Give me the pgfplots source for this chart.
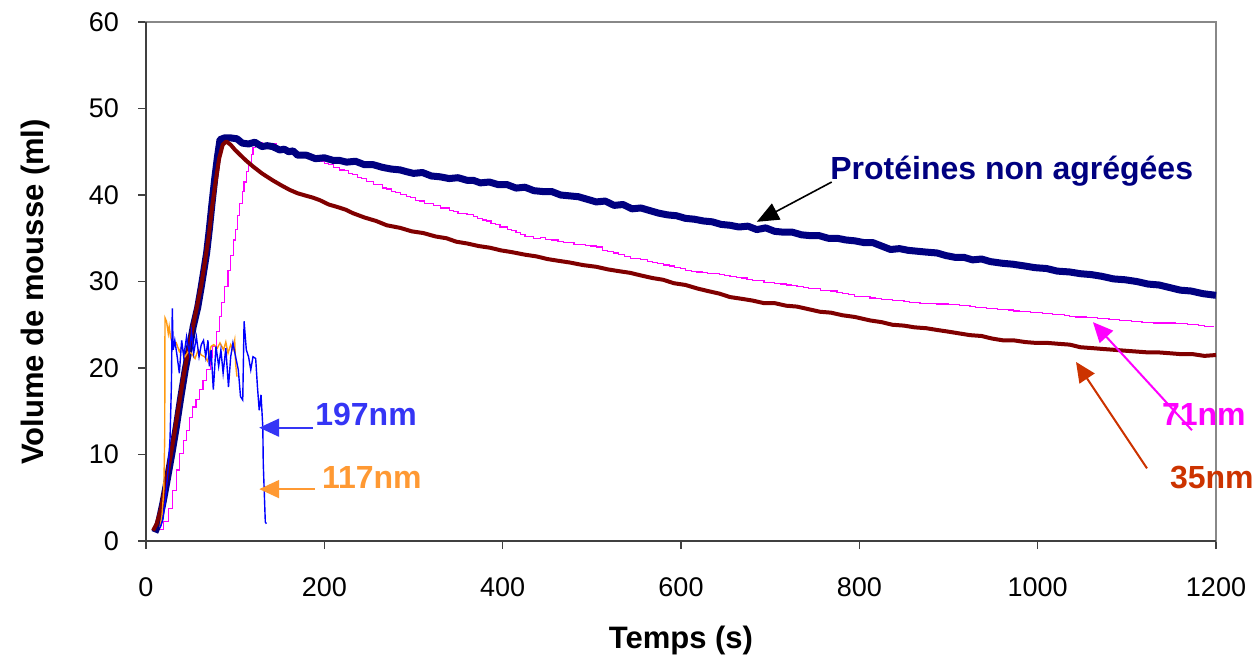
\documentclass[border=0pt]{standalone}
\usepackage{pgfplots}
\pgfplotsset{compat=1.18}
\usepackage{fontspec}
\setmainfont{Liberation Sans}
\usetikzlibrary{arrows.meta}
\definecolor{navyc}{HTML}{000080}
\definecolor{brownc}{HTML}{800000}
\definecolor{magc}{HTML}{FF00FF}
\definecolor{bluec}{HTML}{0000FF}
\definecolor{orangec}{HTML}{FF9A10}
\definecolor{bluetxt}{HTML}{3535F5}
\definecolor{orangetxt}{HTML}{FF9933}
\definecolor{redtxt}{HTML}{CC3300}
\definecolor{darkax}{HTML}{404040}
\definecolor{lightax}{HTML}{888888}
\begin{document}
\begin{tikzpicture}
\path[use as bounding box] (-73pt,-58.5pt) rectangle (555pt,270.5pt);
\begin{axis}[
  scale only axis,
  width=535pt, height=259.5pt,
  xmin=0, xmax=1200, ymin=0, ymax=60,
  xtick={0,200,...,1200}, ytick={0,10,...,60},
  tick pos=left, tick align=outside,
  major tick length=4pt,
  every tick/.style={darkax, line width=0.8pt},
  axis line style={lightax, line width=1pt},
  /pgf/number format/assume math mode=true,
  /pgf/number format/1000 sep={},
  ticklabel style={font=\fontsize{13.5}{15}\selectfont},
  xticklabel style={yshift=-11pt},
  yticklabel style={xshift=-6pt},
  xlabel={Temps (s)},
  ylabel={Volume de mousse (ml)},
  label style={font=\fontsize{15.5}{17}\selectfont\bfseries},
  xlabel style={at={(axis description cs:0.5,-0.1908)}, anchor=center},
  ylabel style={at={(axis description cs:-0.1037,0.48)}, anchor=center},
  clip=false,
]
% axis lines: dark left and bottom
\draw[darkax, line width=1pt] (rel axis cs:0,1) -- (rel axis cs:0,0) -- (rel axis cs:1,0);

% 71 nm (magenta)
\addplot[magc, line width=0.6pt, const plot] coordinates {
(15,1.3) (20,2.3) (25,3.8) (30,5.8) (34,8.2) (38,10.1) (42,11.6) (45,12.8) (49,14.3) (52,15.5) (56,16.4) (60,17.5) (64,18.6) (68,19.8) (72,21.2) (75,22.5) (79,24.2) (82,26.0) (85,27.6) (88,29.4) (92,31.3) (95,33.0) (98,34.8) (100,36.0) (103,37.6) (105,39.0) (108,40.4) (110,41.5) (113,42.7) (115,43.5) (118,44.7) (120,45.5) (123,46.0) (127,46.1) (130,45.9) (136,45.8) (142,45.9) (146,45.4) (150,45.3) (155,45.4) (160,45.0) (165,44.9) (170,44.6) (175,44.7) (180,44.3) (185,44.1) (190,43.9) (195,43.9) (200,43.6) (205,43.5) (210,43.2) (217,42.9) (222,42.8) (227,42.5) (232,42.4) (237,42.0) (242,41.9) (247,41.6) (255,41.2) (260,41.2) (265,40.8) (270,40.7) (275,40.4) (280,40.3) (285,40.1) (292,39.8) (297,39.7) (302,39.4) (307,39.3) (312,39.0) (317,39.0) (322,38.8) (330,38.5) (335,38.5) (340,38.2) (345,38.1) (350,37.9) (355,37.9) (360,37.7) (367,37.5) (372,37.3) (377,37.1) (382,37.0) (387,36.7) (392,36.6) (397,36.3) (405,36.0) (410,35.9) (415,35.7) (420,35.4) (425,35.2) (435,35.0) (442,35.1) (448,34.9) (455,34.8) (462,34.6) (468,34.5) (474,34.5) (480,34.3) (487,34.3) (493,34.2) (499,34.1) (505,34.0) (512,33.6) (518,33.5) (524,33.3) (530,33.1) (537,32.9) (543,32.7) (549,32.7) (555,32.5) (562,32.3) (568,32.2) (574,32.1) (580,31.9) (587,31.8) (593,31.6) (599,31.5) (605,31.3) (612,31.2) (618,31.1) (624,31.0) (630,30.9) (637,30.9) (643,30.8) (649,30.7) (655,30.6) (662,30.5) (668,30.4) (674,30.2) (680,30.1) (687,30.1) (693,29.9) (699,29.9) (705,29.8) (712,29.7) (718,29.6) (724,29.5) (730,29.4) (737,29.3) (743,29.2) (749,29.2) (756,29.0) (762,29.0) (768,28.9) (775,28.7) (781,28.6) (788,28.5) (795,28.3) (803,28.3) (812,28.1) (818,28.0) (825,27.9) (831,27.9) (837,27.8) (844,27.8) (850,27.7) (856,27.6) (862,27.6) (868,27.5) (875,27.5) (881,27.5) (887,27.4) (893,27.4) (900,27.3) (906,27.3) (912,27.2) (918,27.2) (924,27.1) (930,27.0) (937,27.0) (943,26.9) (949,26.9) (955,26.8) (961,26.8) (967,26.7) (973,26.6) (980,26.5) (986,26.5) (992,26.4) (998,26.4) (1005,26.3) (1011,26.3) (1017,26.2) (1023,26.2) (1030,26.1) (1036,26.0) (1042,25.9) (1048,25.9) (1055,25.8) (1061,25.8) (1067,25.7) (1073,25.7) (1080,25.6) (1086,25.6) (1092,25.5) (1098,25.5) (1105,25.4) (1111,25.4) (1117,25.3) (1124,25.3) (1130,25.2) (1136,25.2) (1142,25.2) (1149,25.2) (1155,25.1) (1161,25.1) (1168,25.0) (1174,25.0) (1180,24.9) (1187,24.8) (1193,24.8) (1197,24.7)
};

% Proteines non agregees (navy)
\addplot[navyc, line width=3.5pt, line join=round] coordinates {
(10,1.0) (14,2.0) (19,4.4) (24,7.2) (29,10.1) (34,13.2) (39,16.6) (44,19.8) (49,22.5) (53,24.8) (58,27.0) (62,29.4) (66,32.0) (68,33.3) (71,36.0) (74,39.0) (77,41.8) (80,44.3) (83,46.4) (88,46.6) (95,46.6) (102,46.5) (108,46.0) (115,45.9) (122,46.1) (130,45.6) (136,45.7) (142,45.6) (150,45.2) (155,45.3) (160,45.0) (165,45.1) (170,44.6) (180,44.6) (190,44.2) (200,44.3) (210,44.0) (217,44.0) (225,43.8) (235,43.9) (245,43.5) (255,43.5) (265,43.2) (275,43.0) (285,42.9) (292,42.7) (300,42.5) (310,42.6) (320,42.2) (330,42.1) (340,41.9) (350,42.0) (360,41.7) (367,41.7) (375,41.4) (385,41.5) (395,41.2) (405,41.2) (415,40.8) (425,40.9) (435,40.5) (445,40.4) (455,40.4) (465,40.0) (475,39.9) (485,39.8) (495,39.5) (505,39.2) (515,39.3) (525,38.8) (535,38.9) (545,38.4) (555,38.5) (565,38.2) (575,37.9) (585,37.7) (595,37.6) (605,37.3) (615,37.2) (625,37.0) (635,36.9) (645,36.6) (655,36.5) (665,36.3) (675,36.4) (685,36.0) (695,36.2) (705,35.8) (715,35.7) (725,35.7) (735,35.4) (745,35.3) (755,35.3) (765,35.0) (775,35.0) (785,34.8) (795,34.7) (805,34.5) (815,34.5) (825,34.1) (835,33.7) (845,33.8) (855,33.6) (865,33.5) (875,33.4) (887,33.3) (897,33.0) (907,32.8) (917,32.8) (927,32.5) (937,32.6) (947,32.3) (961,32.1) (972,32.0) (985,31.8) (997,31.6) (1010,31.5) (1022,31.2) (1036,31.1) (1048,30.9) (1060,30.8) (1072,30.6) (1085,30.3) (1098,30.2) (1111,30.0) (1124,29.7) (1136,29.6) (1148,29.3) (1160,29.0) (1172,28.9) (1185,28.6) (1200,28.4)
};

% 35 nm (brown)
\addplot[brownc, line width=2pt, line join=round] coordinates {
(8,1.2) (12,2.0) (17,3.8) (22,6.5) (27,9.5) (32,12.5) (37,15.8) (42,19.0) (47,21.8) (52,24.5) (57,27.0) (62,29.6) (66,32.2) (70,35.0) (74,38.5) (78,41.5) (82,44.2) (86,45.8) (90,46.2) (95,45.8) (100,45.2) (106,44.6) (112,44.0) (120,43.3) (130,42.5) (136,42.1) (142,41.7) (152,41.1) (161,40.6) (170,40.2) (180,39.9) (187,39.7) (195,39.4) (205,38.9) (215,38.6) (224,38.3) (232,37.9) (245,37.4) (258,37.0) (270,36.5) (285,36.2) (298,35.8) (311,35.6) (325,35.2) (337,35.0) (348,34.6) (360,34.4) (373,34.1) (386,33.9) (398,33.6) (410,33.4) (425,33.1) (438,32.9) (450,32.6) (462,32.4) (475,32.2) (490,31.9) (505,31.7) (518,31.4) (530,31.2) (543,31.0) (555,30.7) (568,30.4) (580,30.2) (592,29.8) (605,29.6) (618,29.2) (630,28.9) (643,28.6) (655,28.2) (668,28.0) (680,27.8) (693,27.5) (705,27.5) (718,27.2) (730,27.1) (743,26.8) (756,26.5) (768,26.4) (781,26.1) (795,25.9) (812,25.5) (825,25.3) (837,25.0) (850,24.9) (862,24.7) (875,24.6) (887,24.4) (900,24.2) (912,24.0) (924,23.8) (937,23.7) (949,23.4) (961,23.2) (973,23.2) (986,23.0) (998,22.9) (1011,22.9) (1023,22.8) (1036,22.7) (1048,22.4) (1061,22.3) (1073,22.2) (1086,22.1) (1098,22.0) (1111,21.9) (1124,21.8) (1136,21.8) (1149,21.7) (1161,21.6) (1174,21.6) (1187,21.4) (1200,21.5)
};

% 117 nm (orange)
\addplot[orangec, line width=0.7pt] coordinates {
(15.7,1.6) (18,3.0) (20,6.0) (21,12.0) (21.3,25.8) (23,25.4) (25,24.0) (26,24.8) (27.5,23.6) (30.5,22.5) (34,22.9) (37.4,21.9) (40,22.5) (43.7,21.3) (47.3,21.9) (51,21.7) (55,21.1) (58.5,22.1) (62,21.5) (65.7,21.3) (69,20.8) (73,22.5) (76,22.7) (80,22.3) (83,22.9) (87,22.1) (89.5,23.0) (92,21.7) (95,22.7) (97.5,22.1) (99.5,23.2) (100.5,20.5) (102,19.0)
};

% 197 nm (blue)
\addplot[bluec, line width=0.7pt] coordinates {
(15.7,1.5) (19,2.5) (22,5.0) (25,8.5) (27,12.0) (28.5,18.0) (29.5,26.9) (30.5,22.1) (32.3,23.2) (35,21.3) (37.4,19.4) (40,23.2) (42.3,21.3) (45.5,23.6) (48.5,21.7) (51,24.2) (53.5,21.7) (56.5,23.6) (59.5,21.3) (62,22.7) (64.5,23.2) (67,21.3) (69.5,23.2) (71,20.2) (73,22.1) (75.5,17.5) (78.5,22.5) (81.5,20.2) (84,22.1) (86.5,19.4) (89.5,22.3) (92.5,17.8) (95,21.3) (97.5,22.9) (100.5,21.3) (103.5,19.8) (106,16.7) (108.5,16.3) (110,25.4) (112.5,22.1) (115,21.3) (117.5,19.8) (120,21.3) (123,21.1) (125,17.8) (127,15.1) (129,16.9) (131,13.2) (131.5,9.0) (133.8,2.2) (135,2.0)
};

% annotations
\node[anchor=west, inner sep=0, text=navyc, font=\fontsize{16}{18}\selectfont\bfseries] at (axis cs:767,42.7) {Protéines non agrégées};
\draw[black, line width=0.8pt, -{Triangle[width=9pt,length=11pt]}] (axis cs:769,41.5) -- (axis cs:685,36.9);

\node[anchor=west, inner sep=0, text=bluetxt, font=\fontsize{16}{18}\selectfont\bfseries] at (axis cs:189.5,14.6) {197nm};
\draw[bluetxt, line width=1pt, -{Triangle[width=9pt,length=10pt]}] (axis cs:187,13.1) -- (axis cs:127,13.1);

\node[anchor=west, inner sep=0, text=orangetxt, font=\fontsize{16}{18}\selectfont\bfseries] at (axis cs:197,7.4) {117nm};
\draw[orangetxt, line width=1pt, -{Triangle[width=9pt,length=10pt]}] (axis cs:189.5,6.0) -- (axis cs:127,6.0);

\node[anchor=west, inner sep=0, text=magc, font=\fontsize{16}{18}\selectfont\bfseries] at (axis cs:1139,14.6) {71nm};
\draw[magc, line width=1pt, -{Triangle[width=9pt,length=10pt]}] (axis cs:1173,12.8) -- (axis cs:1062,25.3);

\node[anchor=west, inner sep=0, text=redtxt, font=\fontsize{16}{18}\selectfont\bfseries] at (axis cs:1148,7.3) {35nm};
\draw[redtxt, line width=1pt, -{Triangle[width=9pt,length=10pt]}] (axis cs:1122.6,8.4) -- (axis cs:1043,20.7);
\end{axis}
\end{tikzpicture}
\end{document}
